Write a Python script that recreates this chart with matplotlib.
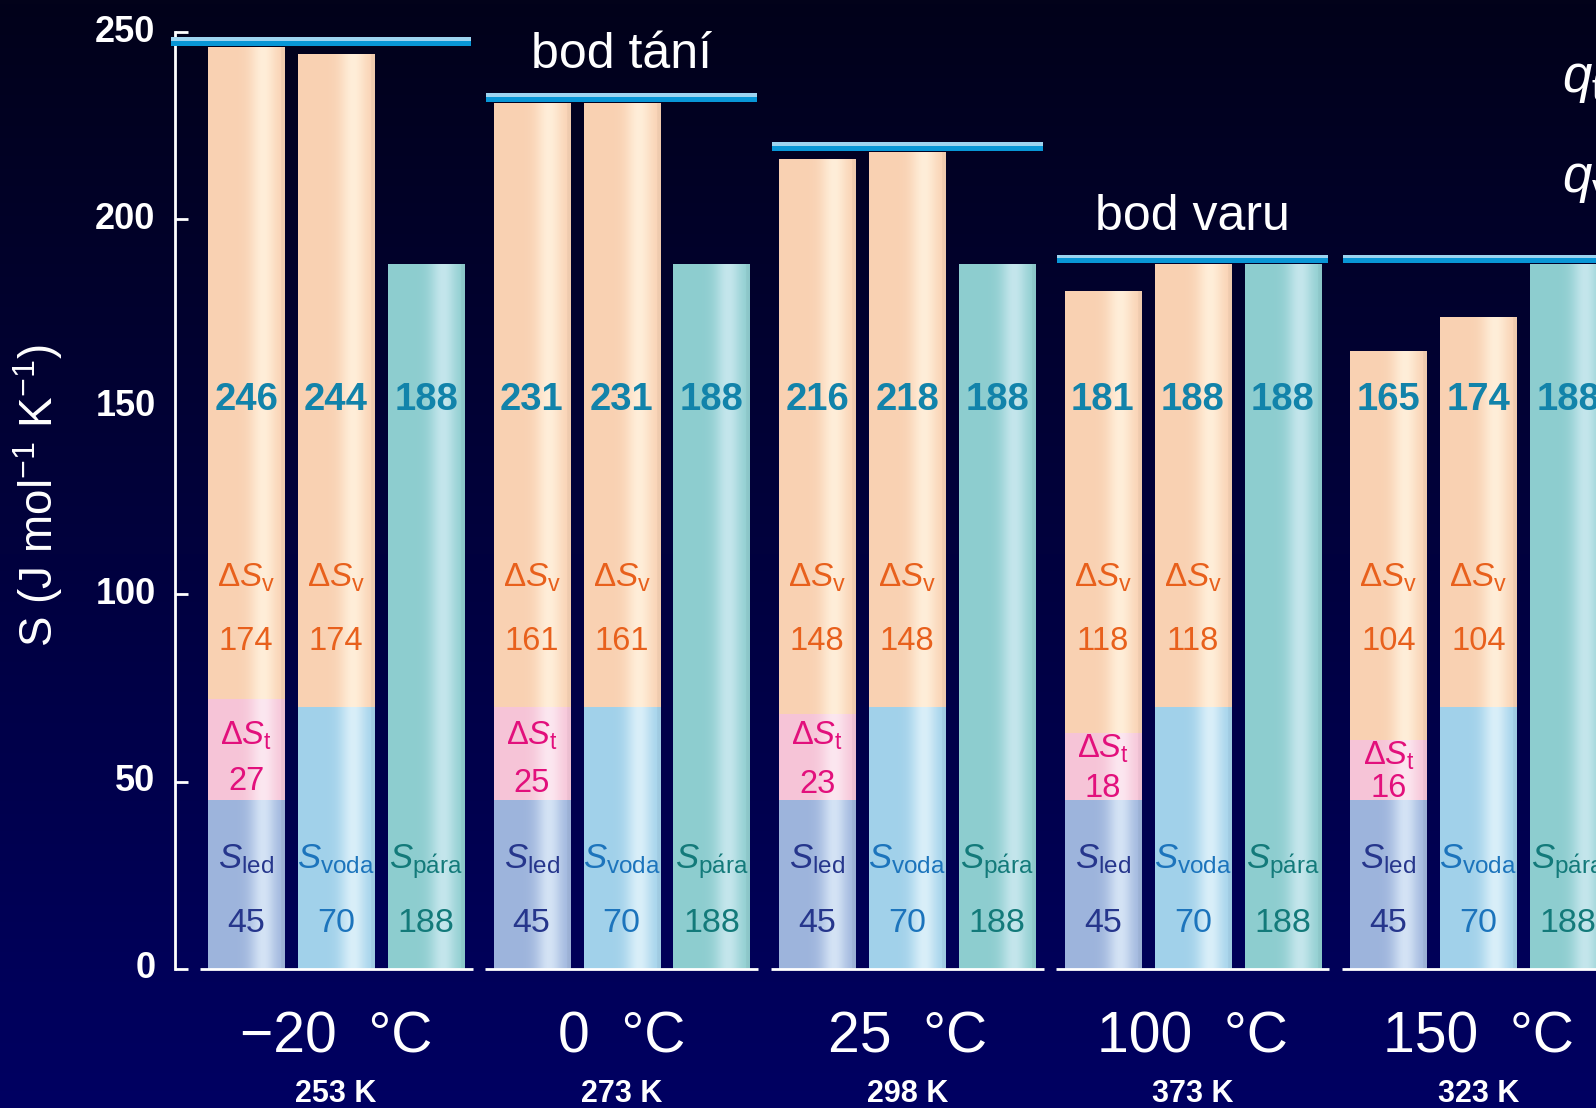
import numpy as np
import matplotlib.pyplot as plt
from matplotlib.colors import to_rgb
from matplotlib.transforms import ScaledTranslation

plt.rcParams['font.family'] = 'Liberation Sans'
plt.rcParams['mathtext.fontset'] = 'custom'
plt.rcParams['mathtext.rm'] = 'Liberation Sans'
plt.rcParams['mathtext.it'] = 'Liberation Sans:italic'
plt.rcParams['mathtext.bf'] = 'Liberation Sans:bold'

# ------------------------------------------------------------
# data (J mol-1 K-1)
# ------------------------------------------------------------
temps = ['\u221220  \u00b0C', '0  \u00b0C', '25  \u00b0C', '100  \u00b0C', '150  \u00b0C']
kelvin = ['253 K', '273 K', '298 K', '373 K', '323 K']
s_led = np.array([45, 45, 45, 45, 45])
s_voda = np.array([70, 70, 70, 70, 70])
s_para = np.array([188, 188, 188, 188, 188])
ds_t = np.array([27, 25, 23, 18, 16])      # tani
ds_v = np.array([174, 161, 148, 118, 104])  # vyparovani

tot_led = s_led + ds_t + ds_v
tot_voda = s_voda + ds_v
tops = np.maximum(np.maximum(tot_led, tot_voda), s_para)

# colours: (dark edge, light highlight)
C_LED = ('#9db4dc', '#d4e3f5')
C_T = ('#f6c4d7', '#fce7f0')
C_V = ('#f9d1b2', '#ffeed9')
C_VODA = ('#a1d1ea', '#d9eff9')
C_PARA = ('#8dcdcf', '#c4e6ec')

TXT_TOT = '#1283aa'
TXT_V = '#e8601c'
TXT_T = '#e2107c'
TXT_LED = '#26368c'
TXT_VODA = '#1c74bc'
TXT_PARA = '#137a7a'

x = np.arange(len(temps))
off = 0.315
bw = 0.267

fig = plt.figure(figsize=(15.96, 11.08), dpi=100)

# background gradient
bg = fig.add_axes([0, 0, 1, 1])
grad = np.linspace(0, 1, 256)[:, None]
top_c = np.array([2, 2, 26]) / 255
bot_c = np.array([0, 0, 98]) / 255
bg_img = top_c[None, None, :] * (1 - grad[..., None]) + bot_c[None, None, :] * grad[..., None]
bg.imshow(bg_img, aspect='auto', extent=(0, 1, 0, 1))
bg.axis('off')

ax = fig.add_axes([175 / 1596, 139 / 1108, 1 - 175 / 1596, 937 / 1108])
ax.patch.set_alpha(0)


def shade(bars, cols):
    dark = np.array(to_rgb(cols[0]))
    light = np.array(to_rgb(cols[1]))
    t = np.linspace(0, 1, 80)
    f = np.exp(-((t - 0.72) / 0.17) ** 2)
    row = dark[None, :] * (1 - f[:, None]) + light[None, :] * f[:, None]
    row[t > 0.96] *= 0.96
    for p in bars:
        x0, y0 = p.get_x(), p.get_y()
        im = ax.imshow(row[None, :, :], extent=(x0, x0 + p.get_width(), y0, y0 + p.get_height()),
                       aspect='auto', interpolation='bilinear', zorder=2)
        im.set_clip_path(p)


b = ax.bar(x - off, s_led, bw, color=C_LED[0], zorder=1)
shade(b, C_LED)
b = ax.bar(x - off, ds_t, bw, bottom=s_led, color=C_T[0], zorder=1)
shade(b, C_T)
b = ax.bar(x - off, ds_v, bw, bottom=s_led + ds_t, color=C_V[0], zorder=1)
shade(b, C_V)
b = ax.bar(x, s_voda, bw, color=C_VODA[0], zorder=1)
shade(b, C_VODA)
b = ax.bar(x, ds_v, bw, bottom=s_voda, color=C_V[0], zorder=1)
shade(b, C_V)
b = ax.bar(x + off, s_para, bw, color=C_PARA[0], zorder=1)
shade(b, C_PARA)

# caps over each group (highest value)
left = x - 0.474
left[0] = -0.578
right = x + 0.474
ax.bar(left, 2.3, right - left, bottom=tops + 0.3, align='edge', color='#0896d6', zorder=3, clip_on=False)
ax.bar(left, 0.9, right - left, bottom=tops + 1.7, align='edge', color='#9dd4f0', zorder=3, clip_on=False)

# baseline pieces
ax.hlines(np.zeros(len(x)), x - 0.478, x + 0.478, colors='white', lw=2, clip_on=False)

# labels inside bars
for i in range(len(x)):
    xl, xw, xp = x[i] - off, x[i], x[i] + off
    for xx, v in [(xl, tot_led[i]), (xw, tot_voda[i]), (xp, s_para[i])]:
        ax.text(xx, 149.2, f'{v}', ha='center', va='baseline', fontsize=27.5,
                fontweight='bold', color=TXT_TOT, zorder=4)
    for xx in (xl, xw):
        ax.text(xx, 102, r'$\Delta S_\mathrm{v}$', ha='center', va='baseline', fontsize=24,
                color=TXT_V, zorder=4)
        ax.text(xx, 85.2, f'{ds_v[i]}', ha='center', va='baseline', fontsize=23.5,
                color=TXT_V, zorder=4)
    band_top = s_led[i] + ds_t[i]
    ax.text(xl, min(59.8, band_top - 6.5), r'$\Delta S_\mathrm{t}$', ha='center', va='baseline',
            fontsize=23.5, color=TXT_T, zorder=4)
    ax.text(xl, 45.9 + max(0, ds_t[i] - 18) * 0.2, f'{ds_t[i]}', ha='center', va='baseline',
            fontsize=23.5, color=TXT_T, zorder=4)
    for xx, lab, val, c in [(xl, r'$S_\mathrm{led}$', s_led[i], TXT_LED),
                            (xw, r'$S_\mathrm{voda}$', s_voda[i], TXT_VODA),
                            (xp, r'$S_\mathrm{p\acute{a}ra}$', s_para[i], TXT_PARA)]:
        ax.text(xx, 27, lab, ha='center', va='baseline', fontsize=25, color=c, zorder=4)
        ax.text(xx, 9.9, f'{val}', ha='center', va='baseline', fontsize=24.5, color=c, zorder=4)
    ax.text(x[i], -22.2, temps[i], ha='center', va='baseline', fontsize=41, color='white',
            clip_on=False)
    ax.text(x[i], -35.4, kelvin[i], ha='center', va='baseline', fontsize=22, color='white',
            fontweight='bold', clip_on=False)

ax.text(x[1], 240.5, 'bod tání', ha='center', va='baseline', fontsize=36, color='white', clip_on=False)
ax.text(x[3], 197.3, 'bod varu', ha='center', va='baseline', fontsize=36, color='white', clip_on=False)
ax.text(4.293, 234.1, r'$q_\mathrm{t}$', ha='left', va='baseline', fontsize=38, color='white', clip_on=False)
ax.text(4.293, 207.2, r'$q_\mathrm{v}$', ha='left', va='baseline', fontsize=38, color='white', clip_on=False)

ax.set_xlim(-0.564, 4.412)
ax.set_ylim(0, 250)
ax.set_xticks([])
ax.set_yticks([0, 50, 100, 150, 200, 250])
ax.tick_params(axis='y', direction='in', length=9, width=2, colors='white', labelsize=26, pad=14)
lift = ScaledTranslation(0, 4 / 100, fig.dpi_scale_trans)
for t in ax.yaxis.get_major_ticks():
    t.label1.set_fontweight('bold')
    t.label1.set_transform(t.label1.get_transform() + lift)
ax.yaxis.get_major_ticks()[3].tick1line.set_visible(False)
for s in ['top', 'right', 'bottom']:
    ax.spines[s].set_visible(False)
ax.spines['left'].set_color('white')
ax.spines['left'].set_linewidth(2)
ax.set_ylabel(r'S (J mol$^{-1}$ K$^{-1}$)', fontsize=33, color='white')
ax.yaxis.set_label_coords(-0.0774, 0.505)

fig.savefig('out.png', dpi=100)
